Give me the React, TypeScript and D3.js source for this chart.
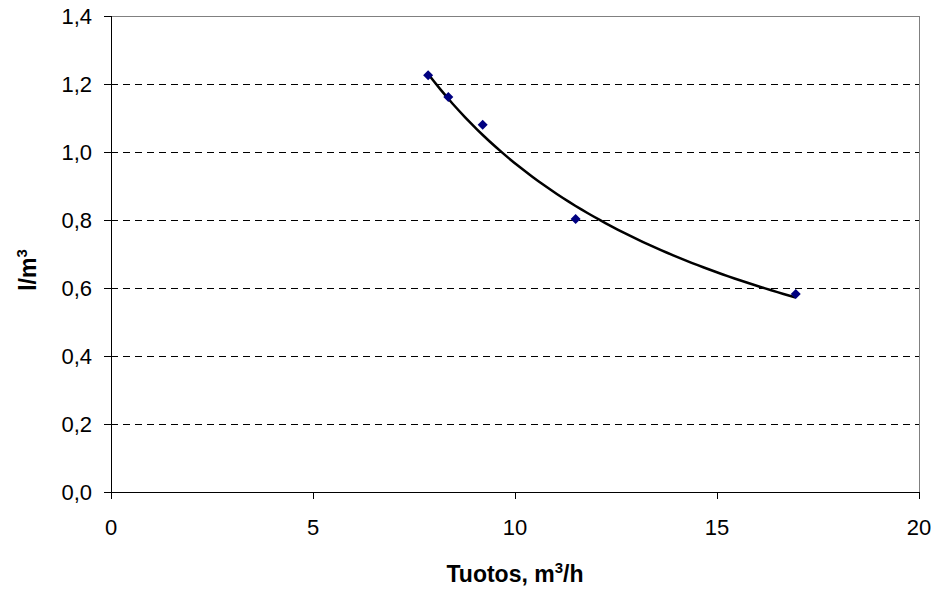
import * as d3 from 'd3'
import React from 'react'

// Measured points (Tuotos m3/h vs l/m3)
const flowValues = [7.85, 8.35, 9.2, 11.5, 16.95]
const litresValues = [1.226, 1.162, 1.08, 0.803, 0.582]

const xTicks = [0, 5, 10, 15, 20]
const yTicks = [0, 0.2, 0.4, 0.6, 0.8, 1.0, 1.2, 1.4]

const W = 943
const H = 592
const margin = { top: 16, right: 24, bottom: 100, left: 111 }

const fiLocale = d3.formatLocale({ decimal: ',', thousands: ' ', grouping: [3], currency: ['', ' €'] })
const fmtY = fiLocale.format('.1f')

// Power trendline y = a * x^b, least squares on logs (like Excel)
function powerFit(xs: number[], ys: number[]) {
  const lx = xs.map(Math.log)
  const ly = ys.map(Math.log)
  const mx = d3.mean(lx)!
  const my = d3.mean(ly)!
  const sxy = d3.sum(lx, (v, i) => (v - mx) * (ly[i] - my))
  const sxx = d3.sum(lx, (v) => (v - mx) * (v - mx))
  const b = sxy / sxx
  const a = Math.exp(my - b * mx)
  return (x: number) => a * Math.pow(x, b)
}

export default function App() {
  const x = d3.scaleLinear().domain([0, 20]).range([margin.left, W - margin.right])
  const y = d3.scaleLinear().domain([0, 1.4]).range([H - margin.bottom, margin.top])

  const [x0, x1] = d3.extent(flowValues) as [number, number]
  const fit = powerFit(flowValues, litresValues)
  const trend = d3.range(0, 61).map((i) => {
    const xv = x0 + ((x1 - x0) * i) / 60
    return [xv, fit(xv)] as [number, number]
  })
  const line = d3.line<[number, number]>().x((d) => x(d[0])).y((d) => y(d[1]))
  // square turned 45 degrees, like the Excel marker
  const marker = d3.symbol().type(d3.symbolSquare).size(50)

  const left = x(0)
  const right = x(20)
  const top = y(1.4)
  const bottom = y(0)
  const font = 'Liberation Sans, Arial, sans-serif'

  return (
    <svg width={W} height={H} style={{ position: 'absolute', left: 0, top: 0, background: '#fff' }}>
      {/* grid lines */}
      {yTicks.filter((t) => t > 0 && t < 1.4).map((t) => (
        <line key={'g' + t} x1={left} x2={right} y1={Math.round(y(t)) + 0.5} y2={Math.round(y(t)) + 0.5}
          stroke="#000" strokeWidth={1} strokeDasharray="7,5" />
      ))}

      {/* frame: top and right grey */}
      <line x1={left} x2={right} y1={Math.round(top) + 0.5} y2={Math.round(top) + 0.5} stroke="#808080" />
      <line x1={Math.round(right) + 0.5} x2={Math.round(right) + 0.5} y1={top} y2={bottom} stroke="#808080" />

      {/* axes */}
      <line x1={Math.round(left) + 0.5} x2={Math.round(left) + 0.5} y1={top} y2={bottom} stroke="#000" />
      <line x1={left} x2={right} y1={Math.round(bottom) + 0.5} y2={Math.round(bottom) + 0.5} stroke="#000" />

      {yTicks.map((t) => (
        <g key={'y' + t}>
          <line x1={left - 7} x2={left} y1={Math.round(y(t)) + 0.5} y2={Math.round(y(t)) + 0.5} stroke="#000" />
          <text x={left - 19} y={y(t)} dy="0.36em" textAnchor="end" fontFamily={font} fontSize={22} fill="#000">
            {fmtY(t)}
          </text>
        </g>
      ))}
      {xTicks.map((t) => (
        <g key={'x' + t}>
          <line x1={Math.round(x(t)) + 0.5} x2={Math.round(x(t)) + 0.5} y1={bottom} y2={bottom + 7} stroke="#000" />
          <text x={x(t)} y={bottom + 43} textAnchor="middle" fontFamily={font} fontSize={22} fill="#000">
            {t}
          </text>
        </g>
      ))}

      {/* axis titles */}
      <text x={(left + right) / 2} y={582} textAnchor="middle" fontFamily={font} fontSize={23} fontWeight="bold" fill="#000">
        Tuotos, m<tspan dy={-9} fontSize={15}>3</tspan><tspan dy={9}>/h</tspan>
      </text>
      <text transform={`translate(36, ${(top + bottom) / 2 + 16}) rotate(-90)`} textAnchor="middle"
        fontFamily={font} fontSize={23} fontWeight="bold" fill="#000">
        l/m<tspan dy={-9} fontSize={15}>3</tspan>
      </text>

      {/* trendline */}
      <path d={line(trend) ?? ''} fill="none" stroke="#000" strokeWidth={2.5} />

      {/* markers */}
      {flowValues.map((v, i) => (
        <path key={'p' + i} d={marker() ?? ''} transform={`translate(${x(v)}, ${y(litresValues[i])}) rotate(45)`} fill="#000080" />
      ))}
    </svg>
  )
}
